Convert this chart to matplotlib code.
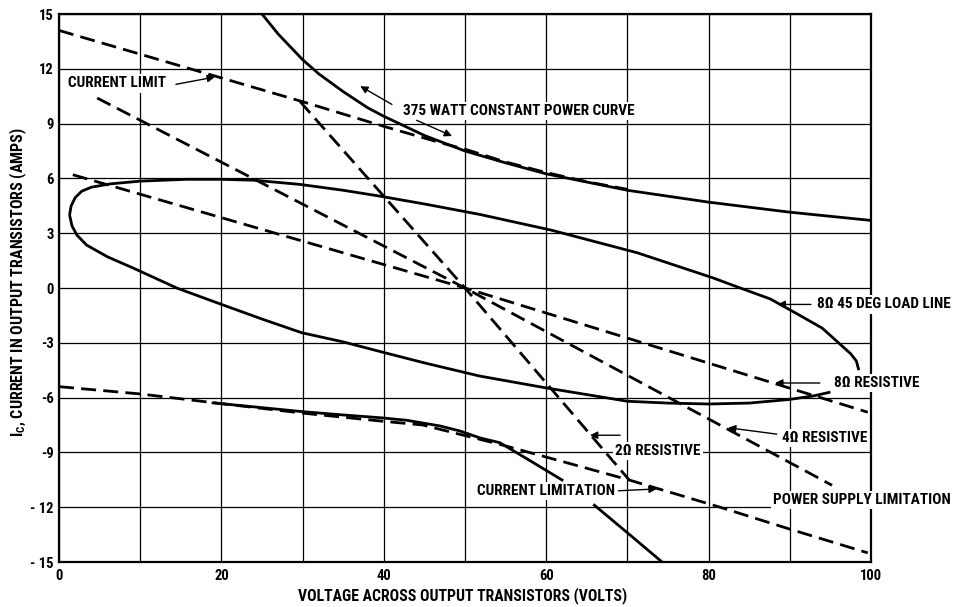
import matplotlib
matplotlib.use('Agg')
import matplotlib.pyplot as plt
import numpy as np

plt.rcParams['font.family'] = ['Roboto Condensed', 'Roboto', 'DejaVu Sans']
plt.rcParams['font.weight'] = 'bold'

# -----------
# data (volts, amps)
# -----------
power_v = [25, 27, 30, 32, 35, 38, 40, 45, 50, 55, 60, 70, 80, 90, 100]
power_i = [15.0, 13.9, 12.5, 11.72, 10.75, 9.87, 9.4, 8.35, 7.5, 6.85, 6.25, 5.35, 4.7, 4.15, 3.7]

climit_top_v = [0, 20, 30, 40, 47, 50, 55, 60, 65, 70]
climit_top_i = [14.1, 11.5, 10.2, 8.85, 7.95, 7.6, 6.9, 6.32, 5.82, 5.4]

r2_v = [29.7, 50, 70.2]
r2_i = [10.2, 0.0, -10.5]
r4_v = [4.7, 50, 95.2]
r4_i = [10.4, 0.0, -10.8]
r8_v = [1.7, 50, 99.6]
r8_i = [6.2, 0.0, -6.8]

loop_up_v = [1.3, 1.5, 2.0, 2.8, 4, 6.3, 10, 15.7, 20, 24, 29.7, 35, 39.5, 45, 51.8,
             60.6, 71.2, 80.5, 83.9, 87.6, 91.0, 94.0, 96.2, 97.5, 98.2, 98.5]
loop_up_i = [4.0, 4.5, 4.95, 5.3, 5.52, 5.7, 5.85, 5.95, 5.95, 5.9, 5.67, 5.35, 5.03, 4.6, 4.03,
             3.17, 1.93, 0.56, 0.0, -0.6, -1.44, -2.2, -3.08, -3.6, -4.0, -4.5]
loop_lo_v = [1.3, 1.6, 2.2, 3.4, 6, 9.1, 14.5, 19.4, 25, 29.9, 35, 39.3, 45, 51.8, 60,
             70, 75, 80, 85, 90, 93, 95]
loop_lo_i = [4.0, 3.4, 2.9, 2.35, 1.7, 1.1, 0.0, -0.8, -1.7, -2.45, -2.95, -3.45, -4.1, -4.82, -5.47,
             -6.2, -6.3, -6.35, -6.3, -6.1, -5.9, -5.7]

low_a_v = [18.8, 25, 30, 35, 39.5, 42.8, 46.9, 49.4, 51.8, 54.3, 58, 62.1]
low_a_i = [-6.28, -6.55, -6.77, -6.95, -7.1, -7.24, -7.55, -7.83, -8.2, -8.47, -9.45, -10.55]
low_b_v = [65.8, 70, 74.8]
low_b_i = [-11.84, -13.4, -15.2]

climit_low_v = [0, 10, 19.4, 30, 40, 44.8, 54.3, 62, 69.9, 81.4, 90, 99.6]
climit_low_i = [-5.4, -5.8, -6.3, -6.85, -7.3, -7.5, -8.56, -9.5, -10.47, -12.0, -13.2, -14.5]

x_ticks = [0, 20, 40, 60, 80, 100]
y_ticks = [-15, -12, -9, -6, -3, 0, 3, 6, 9, 12, 15]
y_tick_labels = ['- 15', '- 12', '-9', '-6', '-3', '0', '3', '6', '9', '12', '15']

# -----------
# figure
# -----------
fig = plt.figure(figsize=(9.58, 6.07), dpi=100)
ax = fig.add_axes([59 / 958, 45 / 607, 812 / 958, 548 / 607])

ax.set_xlim(0, 100)
ax.set_ylim(-15, 15)
ax.set_xticks(x_ticks)
ax.set_xticks(np.arange(0, 101, 10), minor=True)
ax.set_yticks(y_ticks)
ax.set_yticklabels(y_tick_labels)
ax.tick_params(which='both', length=0, labelsize=10.5)
ax.tick_params(axis='x', pad=5)
ax.tick_params(axis='y', pad=4)
ax.grid(which='both', color='black', lw=0.9)
ax.set_axisbelow(True)
for s in ax.spines.values():
    s.set_linewidth(1.6)

solid = dict(color='black', lw=2.0, solid_capstyle='butt')
dash = dict(color='black', lw=2.0, dashes=(5.4, 2.6))

ax.plot(power_v, power_i, **solid)
ax.plot(climit_top_v, climit_top_i, **dash)
ax.plot(r2_v, r2_i, **dash)
ax.plot(r4_v, r4_i, **dash)
ax.plot(r8_v, r8_i, **dash)
ax.plot(loop_up_v, loop_up_i, **solid)
ax.plot(loop_lo_v, loop_lo_i, **solid)
ax.plot(low_a_v, low_a_i, **solid)
ax.plot(low_b_v, low_b_i, **solid)
ax.plot(climit_low_v, climit_low_i, **dash)

# labels and arrows
box = dict(facecolor='white', edgecolor='none', pad=1.5)
arr = dict(arrowstyle='-|>', color='black', lw=1.0, mutation_scale=11, shrinkA=0, shrinkB=0)
tkw = dict(fontsize=11, va='center', bbox=box, annotation_clip=False)

ax.annotate('CURRENT LIMIT', xy=(1.1, 11.2), **dict(tkw, ha='left'))
ax.annotate('', xy=(19.2, 11.55), xytext=(14.4, 11.15), arrowprops=arr)

ax.annotate('375 WATT CONSTANT POWER CURVE', xy=(42.4, 9.7), **dict(tkw, ha='left'))
ax.annotate('', xy=(37.1, 11.05), xytext=(41.0, 10.05), arrowprops=arr)
ax.annotate('', xy=(48.4, 8.32), xytext=(44.05, 9.18), arrowprops=arr)

ax.annotate('8Ω 45 DEG LOAD LINE', xy=(93.4, -0.9), **dict(tkw, ha='left'))
ax.annotate('', xy=(88.5, -0.9), xytext=(92.6, -0.9), arrowprops=arr)

ax.annotate('8Ω RESISTIVE', xy=(95.5, -5.2), **dict(tkw, ha='left'))
ax.annotate('', xy=(88.2, -5.2), xytext=(93.7, -5.2), arrowprops=arr)

ax.annotate('4Ω RESISTIVE', xy=(89.0, -8.2), **dict(tkw, ha='left'))
ax.annotate('', xy=(82.4, -7.65), xytext=(88.4, -8.0), arrowprops=arr)

ax.annotate('2Ω RESISTIVE', xy=(68.5, -8.92), **dict(tkw, ha='left'))
ax.annotate('', xy=(65.4, -8.06), xytext=(69.1, -8.06), arrowprops=arr)

ax.annotate('CURRENT LIMITATION', xy=(68.5, -11.1), **dict(tkw, ha='right'))
ax.annotate('', xy=(73.6, -11.0), xytext=(68.9, -11.1), arrowprops=arr)

ax.annotate('POWER SUPPLY LIMITATION', xy=(87.9, -11.6), **dict(tkw, ha='left'))

fig.text(463 / 958, 1 - 596 / 607, 'VOLTAGE ACROSS OUTPUT TRANSISTORS (VOLTS)',
         ha='center', va='center', fontsize=11.3)
fig.text(18.5 / 958, 1 - 282 / 607, r'I$_\mathregular{C}$, CURRENT IN OUTPUT TRANSISTORS (AMPS)',
         ha='center', va='center', rotation=90, fontsize=11.5)

fig.savefig('out.png', dpi=100)
